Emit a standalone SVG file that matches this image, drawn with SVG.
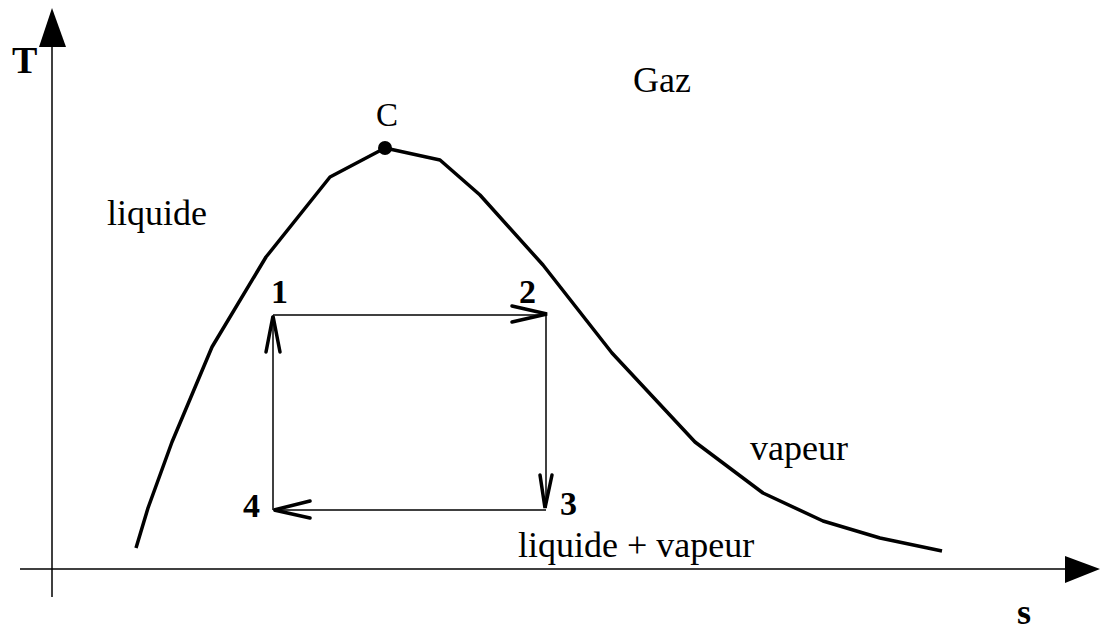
<svg xmlns="http://www.w3.org/2000/svg" width="1100" height="631" viewBox="0 0 1100 631">
<style>
.lbl{font-family:"Liberation Serif",serif;font-size:36px;fill:#000}
.b{font-weight:bold}
.ax{stroke:#000;stroke-width:1.5;fill:none}
.thin{stroke:#000;stroke-width:1.5;fill:none}
.chev{stroke:#000;stroke-width:3.5;fill:none;stroke-linecap:round;stroke-linejoin:miter}
.curve{stroke:#000;stroke-width:3.5;fill:none;stroke-linejoin:round}
</style>
<rect width="1100" height="631" fill="#fff"/>
<g id="axes">
<line class="ax" x1="52" y1="597" x2="52" y2="45"/>
<polygon points="52,8 39,47 66,47" fill="#000"/>
<line class="ax" x1="20" y1="569" x2="1067" y2="569"/>
<polygon points="1100,569 1065,556 1065,583" fill="#000"/>
<text class="lbl b" x="12" y="73" style="font-size:38px">T</text>
<text class="lbl b" x="1017" y="624">s</text>
</g>
<g id="saturation-curve">
<polyline class="curve" points="136,548 148,508 172,442 212,347 266,257 330,177 385,148 440,160 480,195 543,265 612,353 695,442 763,493 823,521 880,538 942,551"/>
</g>
<g id="point-C">
<circle cx="385" cy="148" r="7" fill="#000"/>
<text class="lbl" x="376" y="126" style="font-size:33px">C</text>
</g>
<g id="regions">
<text class="lbl" x="633" y="92">Gaz</text>
<text class="lbl" x="107" y="225">liquide</text>
<text class="lbl" x="750" y="460">vapeur</text>
<text class="lbl" x="518" y="557">liquide + vapeur</text>
</g>
<g id="connectors">
<line class="thin" x1="273" y1="315" x2="546" y2="315"/>
<line class="thin" x1="546" y1="315" x2="546" y2="508"/>
<line class="thin" x1="546" y1="510" x2="273" y2="510"/>
<line class="thin" x1="273" y1="510" x2="273" y2="315"/>
<polyline class="chev" points="512,306 547,314 512,322"/>
<polyline class="chev" points="540,475 545,508 552,475"/>
<polyline class="chev" points="310,501 274,510 310,518"/>
<polyline class="chev" points="266,352 273,316 280,352"/>
</g>
<g id="state-labels">
<text class="lbl b" x="271" y="303" style="font-size:34px">1</text>
<text class="lbl b" x="519" y="303" style="font-size:34px">2</text>
<text class="lbl b" x="560" y="515" style="font-size:34px">3</text>
<text class="lbl b" x="243" y="517" style="font-size:34px">4</text>
</g>
</svg>
